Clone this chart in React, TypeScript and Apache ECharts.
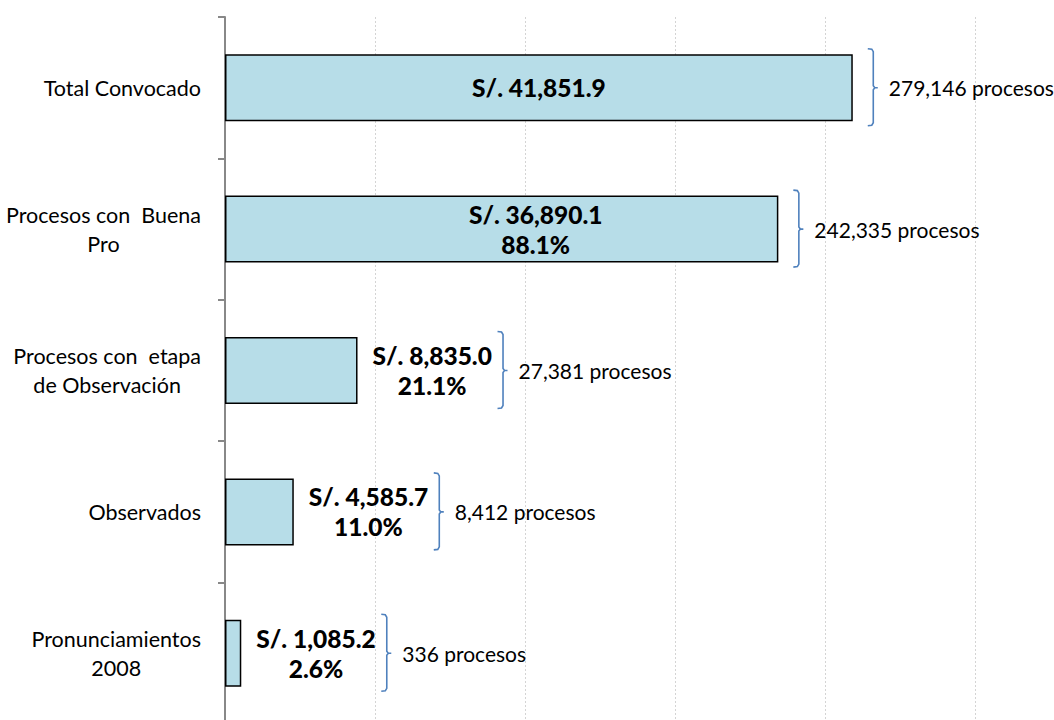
import React, { useEffect, useRef } from "react";
import * as echarts from "echarts";

const categories = [
  "Total Convocado",
  "Procesos con  Buena\nPro",
  "Procesos con  etapa\nde Observación",
  "Observados",
  "Pronunciamientos\n2008",
];
const amounts = [41851.9, 36890.1, 8835.0, 4585.7, 1085.2];
const percents: (number | null)[] = [null, 88.1, 21.1, 11.0, 2.6];
const procesos = [279146, 242335, 27381, 8412, 336];
const xTicks = { min: 0, max: 60000, interval: 10000 };

const FONT = "Lato, 'Open Sans', sans-serif";
const BRACE = "#4F81BD";

const fmtAmount = (v: number) =>
  "S/. " + v.toLocaleString("en-US", { minimumFractionDigits: 1, maximumFractionDigits: 1 });

export default function App() {
  const ref = useRef<HTMLDivElement>(null);
  useEffect(() => {
    if (!ref.current) return;
    const chart = echarts.init(ref.current, null, { renderer: "svg" });
    const isInside = (v: number) => v > 20000;
    const barData = amounts.map((v, i) => {
      const inside = isInside(v);
      return {
        value: v,
        label: {
          position: inside ? "inside" : "right",
          align: inside ? "center" : "left",
          distance: 15,
          offset: inside && i > 0 ? [34, 0] : [0, 0],
        },
      };
    });
    chart.setOption({
      animation: false,
      grid: {
        left: 225,
        right: -71,
        top: 17,
        bottom: -4,
        containLabel: false,
        outerBoundsMode: "none",
      },
      xAxis: {
        type: "value",
        min: xTicks.min,
        max: xTicks.max,
        interval: xTicks.interval,
        axisLabel: { show: false },
        axisLine: { show: false },
        axisTick: { show: false },
        splitLine: { show: true, lineStyle: { color: "#D4D4D4", type: [2, 2], width: 1 } },
      },
      yAxis: {
        type: "category",
        inverse: true,
        data: categories,
        axisLine: { show: true, lineStyle: { color: "#888888", width: 2 } },
        axisTick: { show: true, length: 7, lineStyle: { color: "#888888", width: 2 } },
        axisLabel: {
          margin: 24,
          align: "right",
          formatter: (val: string) =>
            val
              .split("\n")
              .map((l) => `{a|${l}}`)
              .join("\n"),
          rich: {
            a: { align: "center", fontSize: 21.5, lineHeight: 29, fontFamily: FONT, color: "#000" },
          },
        },
        splitLine: { show: false },
      },
      series: [
        {
          type: "bar",
          data: barData,
          barWidth: 67,
          itemStyle: { color: "#B7DDE8", borderColor: "#000", borderWidth: 1.5 },
          label: {
            show: true,
            formatter: (p: any) => {
              const pc = percents[p.dataIndex];
              const lines = [fmtAmount(p.value)];
              if (pc != null) lines.push(pc.toFixed(1) + "%");
              return lines.map((l) => `{b|${l}}`).join("\n");
            },
            rich: {
              b: {
                align: "center",
                color: "#000",
                fontFamily: FONT,
                fontWeight: 900,
                fontSize: 24.5,
                lineHeight: 30,
              },
            },
          },
        },
        {
          type: "custom",
          coordinateSystem: "cartesian2d",
          silent: true,
          encode: { x: 0, y: 1 },
          data: amounts.map((v, i) => [v, i, procesos[i]]),
          renderItem: (params: any, api: any) => {
            const v = api.value(0);
            const idx = api.value(1);
            const n = api.value(2);
            const p = api.coord([v, idx]);
            const x0 = p[0] + (isInside(v) ? 15 : 140);
            const mid = p[1];
            const top = mid - 39;
            const bot = mid + 38;
            return {
              type: "group",
              children: [
                {
                  type: "polyline",
                  shape: {
                    points: [
                      [x0, top],
                      [x0 + 4, top + 0.5],
                      [x0 + 5.5, top + 3],
                      [x0 + 5.5, mid - 2],
                      [x0 + 7, mid],
                      [x0 + 10, mid],
                      [x0 + 7, mid],
                      [x0 + 5.5, mid + 2],
                      [x0 + 5.5, bot - 3],
                      [x0 + 4, bot - 0.5],
                      [x0, bot],
                    ],
                  },
                  style: { stroke: BRACE, lineWidth: 1.6, fill: null },
                },
                {
                  type: "text",
                  style: {
                    x: x0 + 21,
                    y: mid,
                    text: n.toLocaleString("en-US") + " procesos",
                    fill: "#000",
                    font: `21px ${FONT}`,
                    align: "left",
                    verticalAlign: "middle",
                  },
                },
              ],
            };
          },
        },
      ],
    });
    return () => chart.dispose();
  }, []);
  return (
    <div
      ref={ref}
      style={{ position: "fixed", left: 0, top: 0, width: 1054, height: 720, background: "#fff" }}
    />
  );
}
